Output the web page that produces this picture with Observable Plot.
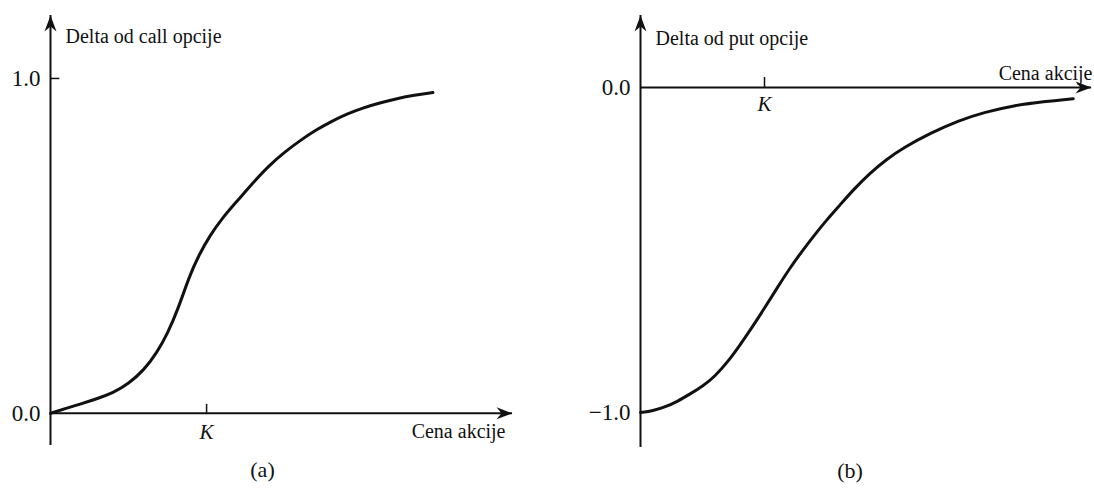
<!DOCTYPE html>
<html>
<head>
<meta charset="utf-8">
<script src="https://cdn.jsdelivr.net/npm/d3@7"></script>
<script src="https://cdn.jsdelivr.net/npm/@observablehq/plot@0.6"></script>
<style>
  body { margin: 0; background: #fff; }
  #chart { display: flex; width: 1094px; height: 489px; }
  #chart svg { display: block; }
</style>
</head>
<body>
<div id="chart"></div>
<script>
// Strike price
const K = 100;

// (a) Delta of a call option against the stock price
const callPrice = [0, 10, 20, 30, 40, 50, 60, 68, 75, 82, 89, 95, 102, 110, 120, 130, 140, 150, 160, 170, 180, 190, 200, 211, 222, 233, 245];
const callDelta = [0, 0.015, 0.029, 0.044, 0.061, 0.088, 0.130, 0.180, 0.238, 0.315, 0.410, 0.472, 0.530, 0.583, 0.636, 0.690, 0.740, 0.780, 0.815, 0.846, 0.872, 0.894, 0.912, 0.927, 0.940, 0.950, 0.958];

// (b) Delta of a put option against the stock price
const putPrice = [0, 10, 20, 30, 40, 50, 60, 70, 80, 90, 100, 110, 120, 130, 140, 150, 160, 172, 185, 198, 212, 234, 256, 278, 301, 325, 349];
const putDelta = [-1.0, -0.995, -0.983, -0.966, -0.943, -0.920, -0.889, -0.846, -0.794, -0.738, -0.679, -0.618, -0.558, -0.505, -0.455, -0.408, -0.365, -0.313, -0.263, -0.222, -0.185, -0.140, -0.102, -0.075, -0.055, -0.043, -0.034];

const callTicks = [0, 1];
const putTicks = [-1, 0];

const titles = {
  callY: "Delta od call opcije",
  putY: "Delta od put opcije",
  x: "Cena akcije",
  strike: "K",
  captionA: "(a)",
  captionB: "(b)"
};

const serif = "'Liberation Serif', 'Times New Roman', serif";
const ink = "#111";

// Barbed arrowhead with its tip at the origin, pointing up
const arrowHead = {
  draw(ctx) {
    ctx.moveTo(0, 0);
    ctx.lineTo(-6, 16);
    ctx.lineTo(0, 11);
    ctx.lineTo(6, 16);
    ctx.closePath();
  }
};

const fmt = d3.format(".1f");

function panel(o) {
  const pts = o.price.map((p, i) => ({price: p, delta: o.delta[i]}));
  const [y0, y1] = o.yDomain;
  const xMax = o.xMax;
  return Plot.plot({
    width: 547,
    height: 489,
    marginLeft: o.marginLeft,
    marginRight: o.marginRight,
    marginTop: o.marginTop,
    marginBottom: o.marginBottom,
    style: {fontFamily: serif, fontSize: "20px", color: ink, background: "#fff"},
    x: {domain: [0, xMax], axis: null},
    y: {domain: [y0, y1]},
    marks: [
      // axes
      Plot.ruleX([0], {y1: y0, y2: y1, stroke: ink, strokeWidth: 2}),
      Plot.ruleY([0], {x1: 0, x2: xMax, stroke: ink, strokeWidth: 2}),
      Plot.dot([[0, y1]], {x: d => d[0], y: d => d[1], symbol: arrowHead, fill: ink, stroke: null}),
      Plot.dot([[xMax, 0]], {x: d => d[0], y: d => d[1], symbol: arrowHead, rotate: 90, fill: ink, stroke: null}),
      Plot.axisY(o.yTicks, {tickSize: 0, tickPadding: 10, tickFormat: fmt, fontSize: 23, label: null, fill: ink}),
      ...(o.extraTicks ? [Plot.ruleY(o.extraTicks, {x1: 0, x2: o.tickLen, stroke: ink, strokeWidth: 1.5})] : []),
      // strike marker
      Plot.ruleX([K], {y1: 0, y2: o.kTick, stroke: ink, strokeWidth: 1.5}),
      Plot.text([K], {x: d => d, y: 0, dy: o.kDy, text: () => titles.strike, fontStyle: "italic", fontSize: 21, fill: ink}),
      // the delta curve
      Plot.line(pts, {x: "price", y: "delta", curve: "basis", stroke: ink, strokeWidth: 3}),
      // titles and caption
      Plot.text([o.yTitle], {frameAnchor: "top-left", dx: 15, dy: o.yTitleDy, textAnchor: "start", fill: ink}),
      Plot.text([titles.x], {frameAnchor: o.xTitleAnchor, dx: o.xTitleDx, dy: o.xTitleDy, textAnchor: "end", fill: ink}),
      Plot.text([o.caption], {frameAnchor: "bottom", dx: o.capDx, dy: o.capDy, fontSize: 22, fill: ink})
    ]
  });
}

const chart = document.getElementById("chart");

chart.append(panel({
  price: callPrice, delta: callDelta, yTicks: callTicks,
  xMax: 296, yDomain: [-0.096, 1.188],
  marginLeft: 50, marginRight: 35, marginTop: 15, marginBottom: 44,
  extraTicks: [1], tickLen: 6,
  kTick: 0.027, kDy: 19,
  yTitle: titles.callY, yTitleDy: 13,
  xTitleAnchor: "bottom-right", xTitleDx: -7, xTitleDy: -8,
  caption: titles.captionA, capDx: -19, capDy: 31
}));

chart.append(panel({
  price: putPrice, delta: putDelta, yTicks: putTicks,
  xMax: 363.7, yDomain: [-1.108, 0.222],
  marginLeft: 93, marginRight: 3, marginTop: 15, marginBottom: 42,
  tickLen: 0,
  kTick: 0.031, kDy: 17,
  yTitle: titles.putY, yTitleDy: 15,
  xTitleAnchor: "top-right", xTitleDx: 1, xTitleDy: 50,
  caption: titles.captionB, capDx: -16, capDy: 30
}));
</script>
</body>
</html>
